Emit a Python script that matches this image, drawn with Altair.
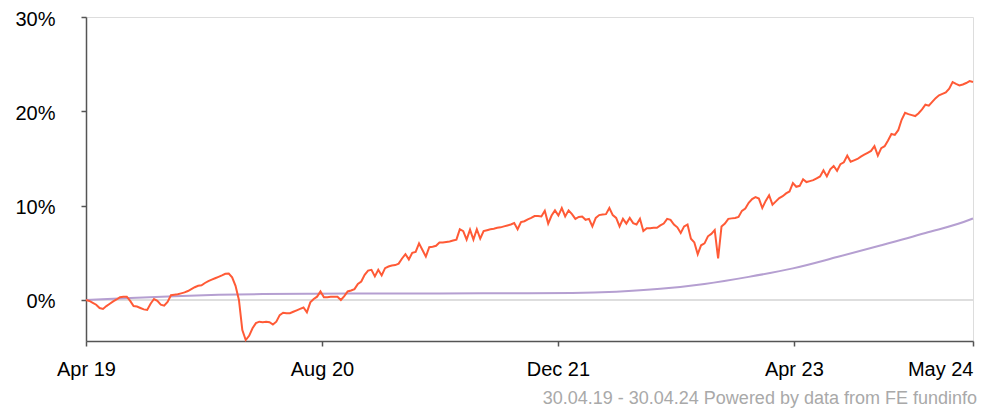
import altair as alt
import pandas as pd

start_date = "2019-04-30"
end_date = "2024-04-30"

# weekly fund performance (%)
fund_values = [
    0.0, -0.1, -0.3, -0.5, -0.85, -0.95, -0.65, -0.4, -0.15, 0.05,
    0.3, 0.35, 0.35, -0.1, -0.65, -0.7, -0.85, -1.0, -1.05, -0.4,
    0.1, -0.1, -0.5, -0.6, -0.2, 0.5, 0.55, 0.6, 0.7, 0.8,
    0.95, 1.15, 1.35, 1.5, 1.55, 1.8, 2.0, 2.15, 2.3, 2.45,
    2.6, 2.77, 2.8, 2.4, 1.5, 0.0, -3.2, -4.25, -3.8, -3.0,
    -2.45, -2.3, -2.35, -2.3, -2.35, -2.6, -2.3, -1.6, -1.35, -1.4,
    -1.4, -1.25, -1.1, -0.95, -0.8, -1.3, -0.25, 0.1, 0.35, 0.9,
    0.3, 0.3, 0.35, 0.35, 0.35, 0.0, 0.4, 0.9, 1.0, 1.15,
    1.7, 1.95, 2.66, 3.12, 3.2, 2.5, 3.2, 2.6, 3.37, 3.55,
    3.65, 3.7, 3.85, 4.4, 4.85, 4.3, 5.0, 5.1, 6.0, 5.3,
    4.6, 5.6, 5.65, 5.75, 6.1, 6.1, 6.15, 6.2, 6.3, 6.4,
    7.5, 7.3, 6.4, 7.45, 6.4, 7.5, 6.5, 7.3, 7.4, 7.5,
    7.55, 7.65, 7.7, 7.8, 7.9, 8.0, 8.15, 7.5, 8.25, 8.35,
    8.55, 8.7, 8.9, 8.9, 8.85, 9.45, 8.1, 8.95, 9.5, 8.95,
    9.75, 8.85, 9.5, 9.1, 8.6, 8.8, 8.85, 8.5, 8.6, 7.8,
    8.7, 9.0, 9.05, 9.1, 9.75, 9.0, 8.7, 7.8, 8.6, 8.1,
    8.7, 8.15, 8.0, 8.6, 7.3, 7.6, 7.6, 7.65, 7.65, 7.9,
    8.1, 8.6, 8.5, 8.0, 7.7, 7.1, 7.8, 8.0, 6.5, 6.1,
    4.85, 5.8, 6.0, 6.75, 7.0, 7.4, 4.4, 7.8, 8.1, 8.6,
    8.65, 8.7, 8.8, 9.45, 9.7, 10.3, 10.7, 10.9, 10.75, 9.75,
    10.5, 11.1, 10.1, 10.45, 10.8, 11.0, 11.3, 11.5, 12.4, 12.0,
    12.1, 12.8, 12.5, 12.6, 12.7, 12.9, 13.1, 13.75, 13.1, 13.85,
    14.2, 13.7, 14.4, 14.6, 15.3, 14.65, 14.8, 14.95, 15.2, 15.4,
    15.6, 15.8, 16.3, 15.3, 16.1, 16.3, 16.9, 17.6, 17.5, 18.0,
    19.1, 19.85, 19.7, 19.6, 19.5, 19.8, 20.2, 20.7, 20.6, 21.0,
    21.4, 21.7, 21.85, 22.0, 22.4, 23.1, 22.9, 22.75, 22.85, 23.0,
    23.2, 23.1,
]

# benchmark (%) every 13 weeks, plus final day
bench_weeks = [0, 13, 26, 39, 52, 65, 78, 91, 104, 117, 130, 143, 156,
               169, 182, 195, 208, 221, 234, 247, 260, 261]
bench_values = [0.0, 0.2, 0.4, 0.55, 0.63, 0.66, 0.68, 0.68, 0.69, 0.7,
                0.71, 0.74, 0.88, 1.18, 1.7, 2.45, 3.35, 4.55, 5.8, 7.1,
                8.5, 8.65]

tick_dates = ["2019-04-30", "2020-08-28", "2021-12-27", "2023-04-27", "2024-04-30"]
tick_labels = ["Apr 19", "Aug 20", "Dec 21", "Apr 23", "May 24"]
y_ticks = [0, 10, 20, 30]

footer = "30.04.19 - 30.04.24 Powered by data from FE fundinfo"

dates = pd.date_range(start_date, periods=len(fund_values), freq="7D")
fund_df = pd.DataFrame({"date": dates.strftime("%Y-%m-%d"), "value": fund_values})
bench_dates = pd.Timestamp(start_date) + pd.to_timedelta([7 * w for w in bench_weeks], unit="D")
bench_df = pd.DataFrame({"date": bench_dates.strftime("%Y-%m-%d"), "value": bench_values})
zero_df = pd.DataFrame({"value": [0]})

def to_dt(s):
    t = pd.Timestamp(s)
    return alt.DateTime(year=t.year, month=t.month, date=t.day, utc=True)

label_list = "[" + ",".join("'" + l + "'" for l in tick_labels) + "]"
n = len(tick_labels) - 1

x_enc = alt.X(
    "date:T",
    scale=alt.Scale(domain=[to_dt(start_date), to_dt(end_date)]),
    axis=alt.Axis(
        values=[to_dt(d) for d in tick_dates],
        labelExpr=f"{label_list}[round(datum.index*{n})]",
        labelAlign={"expr": "datum.index == 1 ? 'right' : 'center'"},
        title=None,
        grid=False,
        domainColor="#555555",
        domainWidth=1.5,
        tickColor="#555555",
        tickWidth=1.5,
        tickSize=5,
        labelFontSize=20,
        labelFont="Liberation Sans",
        labelColor="#000000",
        labelPadding=13,
        labelOverlap=False,
    ),
)
y_scale = alt.Scale(domain=[-4.35, 30], nice=False, zero=False)
y_axis = alt.Axis(
    values=y_ticks,
    labelExpr="datum.value + '%'",
    title=None,
    grid=False,
    domainColor="#555555",
    domainWidth=1.5,
    tickColor="#555555",
    tickWidth=1.5,
    tickSize=5,
    labelFontSize=20,
    labelFont="Liberation Sans",
    labelColor="#000000",
    labelPadding=26,
    labelOffset=2,
)

zero = alt.Chart(zero_df).mark_rule(color="#d3d3d3", strokeWidth=1.5).encode(
    y=alt.Y("value:Q", scale=y_scale, axis=y_axis)
)
bench = alt.Chart(bench_df).mark_line(color="#b59fd1", strokeWidth=2, interpolate="monotone").encode(
    x=x_enc, y=alt.Y("value:Q", scale=y_scale, axis=y_axis)
)
fund = alt.Chart(fund_df).mark_line(color="#ff5a36", strokeWidth=2).encode(
    x=x_enc, y=alt.Y("value:Q", scale=y_scale, axis=y_axis)
)

chart = alt.layer(zero, bench, fund).properties(
    width=887,
    height=324,
    padding={"left": 78, "top": 9, "right": 5, "bottom": 68},
    autosize=alt.AutoSizeParams(type="none"),
    title=alt.TitleParams(
        text=footer,
        orient="bottom",
        anchor="end",
        fontSize=18,
        fontWeight="normal",
        font="Liberation Sans",
        color="#a9a9a9",
        offset=11,
    ),
).configure_view(stroke=None).configure(background="white")

chart.save("out.html", embed_options={"renderer": "svg", "actions": False})
